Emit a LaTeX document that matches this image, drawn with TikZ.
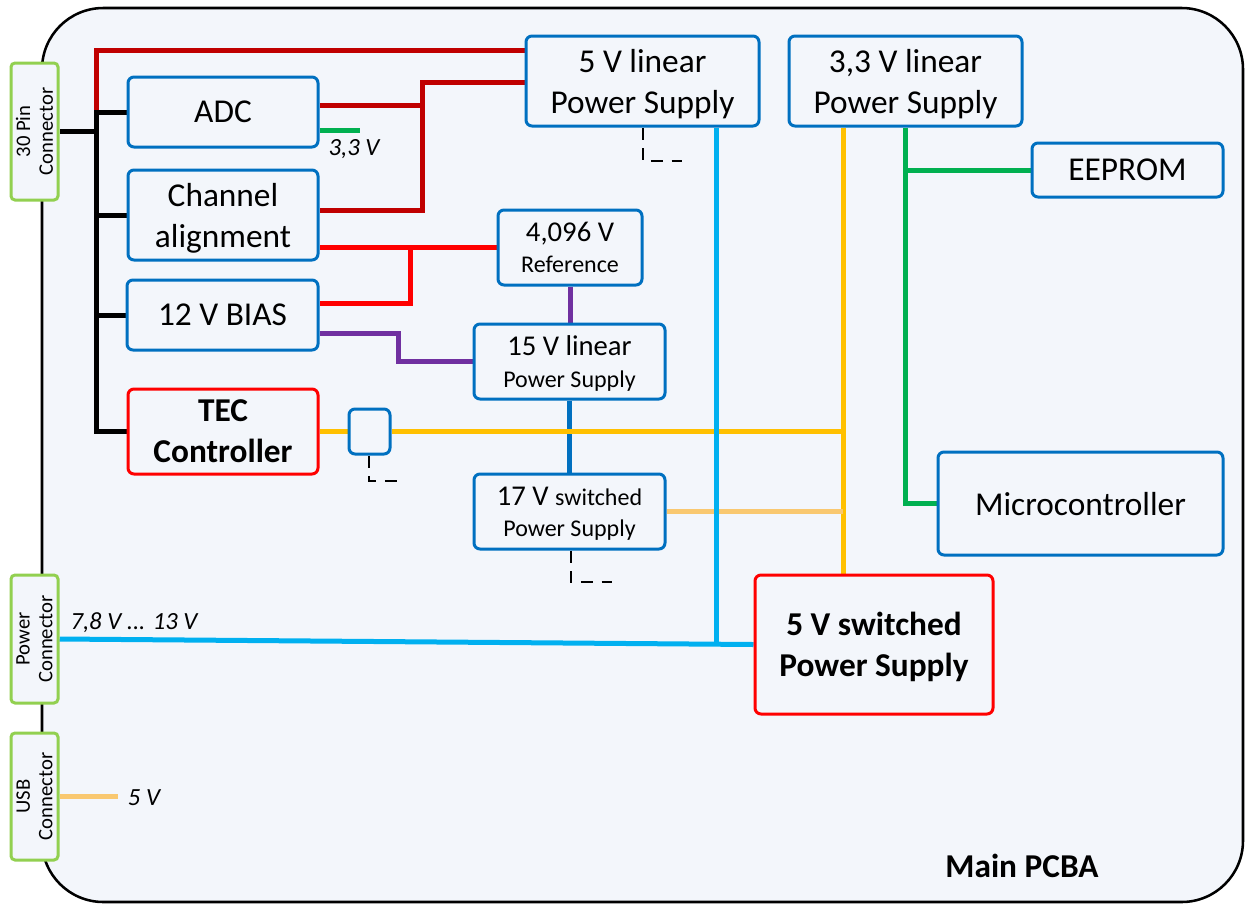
\documentclass[tikz,border=0pt]{standalone}
\usepackage{fontspec}
\setmainfont{Carlito}
\usetikzlibrary{calc}
\definecolor{bgc}{RGB}{243,246,251}
\definecolor{mblue}{RGB}{0,112,192}
\definecolor{dred}{RGB}{192,0,0}
\definecolor{bred}{RGB}{255,0,0}
\definecolor{purp}{RGB}{112,48,160}
\definecolor{cyanw}{RGB}{0,176,240}
\definecolor{yelw}{RGB}{255,192,0}
\definecolor{lorw}{RGB}{249,200,112}
\definecolor{grnw}{RGB}{0,176,80}
\definecolor{lgrn}{RGB}{146,208,80}
\newcommand\fmain{\fontsize{25}{30.75}\selectfont}
\newcommand\fmid{\fontsize{21.5}{23.5}\selectfont}
\newcommand\fsml{\fontsize{18}{23.5}\selectfont}
\newcommand\fconn{\fontsize{15.5}{17}\selectfont}
\newcommand\flab{\fontsize{18.5}{20}\selectfont\itshape}
\newcommand\fpcb{\fontsize{25}{29}\selectfont\bfseries}
\pgfdeclarelayer{bglayer}
\pgfdeclarelayer{wirelayer}
\pgfsetlayers{bglayer,wirelayer,main}
\begin{document}
\begin{tikzpicture}[x=0.75pt,y=-0.75pt,
  box/.style={draw=mblue, line width=2.25pt, rounded corners=4.5pt, fill=bgc, inner sep=0pt, align=center, font=\fmain, text depth=0pt},
  rbox/.style={box, draw=bred},
  conn/.style={draw=lgrn, fill=bgc, line width=2.25pt, rounded corners=3pt, inner sep=0pt, minimum width=35.25pt},
  conntext/.style={rotate=90, font=\fconn, align=center, inner sep=0pt},
  wire/.style={line width=3.75pt},
  gnd/.style={line width=2pt, dash pattern=on 9pt off 6.5pt},
  lbl/.style={inner sep=0pt, font=\flab}]
\useasboundingbox (0,0) rectangle (1246,904);
\begin{pgfonlayer}{bglayer}
\node[draw=black, line width=1.9pt, fill=bgc, rounded corners=46pt, minimum width=900.75pt, minimum height=670.5pt, inner sep=0pt] (pcb) at (642.5,455) {};
\end{pgfonlayer}
\node[inner sep=0pt, font=\fpcb] (pcbl) at (1022,866) {Main PCBA};

% connectors
\node[conn, minimum height=102.75pt] (C30) at (34.5,131.5) {};
\node[conntext] (C30t) at (C30.center) {30 Pin\\Connector};
\node[conn, minimum height=96pt] (PC) at (34.5,639) {};
\node[conntext] (PCt) at (PC.center) {Power\\Connector};
\node[conn, minimum height=95.25pt] (USB) at (34.5,796.5) {};
\node[conntext] (USBt) at (USB.center) {USB\\Connector};

% boxes
\node[box, minimum width=142.5pt, minimum height=52.5pt] (ADC) at (223,112) {ADC};
\node[box, minimum width=142.5pt, minimum height=67.5pt] (Chan) at (223,215) {Channel\\alignment};
\node[box, minimum width=143.25pt, minimum height=52.5pt] (BIAS) at (222.5,315) {12 V BIAS};
\node[rbox, minimum width=142.5pt, minimum height=63.75pt, font=\fmain\bfseries] (TEC) at (223,431.5) {TEC\\Controller};
\node[box, minimum width=174.75pt, minimum height=67.5pt] (PS5L) at (642.5,81) {5 V linear\\Power Supply};
\node[box, minimum width=174.75pt, minimum height=67.5pt] (PS33L) at (905.5,81) {3,3 V linear\\Power Supply};
\node[box, minimum width=143.25pt, minimum height=40.5pt] (EEP) at (1127.5,170) {EEPROM};
\node[box, minimum width=108pt, minimum height=56.25pt, font=\fmid] (REF) at (570,247.5) {4,096 V\\{\fsml Reference}};
\node[box, minimum width=143.25pt, minimum height=56.25pt, font=\fmid] (V15) at (569.5,361.5) {15 V linear\\{\fsml Power Supply}};
\node[box, minimum width=30.75pt, minimum height=33.75pt] (SQ) at (369.5,431.5) {};
\node[box, minimum width=143.25pt, minimum height=56.25pt, font=\fmid] (V17) at (569.5,511.5) {17 V {\fsml switched}\\{\fsml Power Supply}};
\node[box, minimum width=213.75pt, minimum height=77.25pt] (MCU) at (1080.5,503.5) {Microcontroller};
\node[rbox, minimum width=178.5pt, minimum height=104.25pt, font=\fmain\bfseries] (PS5S) at (874,644.5) {5 V switched\\Power Supply};

% labels
\node[lbl] (l33) at (354,149) {3,3 V};
\node[lbl] (l78) at (134,623) {7,8 V ... 13 V};
\node[lbl] (l5) at (144,798) {5 V};

% coordinates
\coordinate (jB) at (96,131.5);
\coordinate (r50) at ($(PS5L.west)+(0,-31)$);
\coordinate (jR) at (422,82);
\coordinate (adcR) at ($(ADC.east)+(0,-7)$);
\coordinate (chR) at ($(Chan.east)+(0,-5)$);
\coordinate (psR) at ($(PS5L.west)+(0,1)$);
\coordinate (jBR) at (410,247.5);
\coordinate (biasR) at ($(BIAS.east)+(0,-12)$);
\coordinate (biasP) at ($(BIAS.east)+(0,18)$);
\coordinate (jP) at (398,361.5);
\coordinate (jY) at (843,431.5);
\coordinate (jG) at (905,170);
\coordinate (jC) at (716,642);
\coordinate (adcG) at ($(ADC.east)+(0,18)$);
\coordinate (g33) at (360,130);
\coordinate (usbE) at (118,796.5);
\coordinate (g1) at (643,161);
\coordinate (g1e) at (682,161);
\coordinate (g2) at (369,481);
\coordinate (g2e) at (402,481);
\coordinate (g3) at (571,582);
\coordinate (g3e) at (612,582);

\begin{pgfonlayer}{wirelayer}
% dark red
\draw[wire, dred] (ADC.west -| jB) |- (r50);
\draw[wire, dred] (psR) -- (jR) |- (chR);
\draw[wire, dred] (adcR) -- (adcR -| jR);
% bright red
\draw[wire, bred] (REF.west) -- (REF.west -| Chan.east);
\draw[wire, bred] (jBR) |- (biasR);
% purple
\draw[wire, purp] (biasP) -| (jP) -- (V15.west);
\draw[wire, purp] (REF.south) -- (REF.south |- V15.north);
% blue
\draw[wire, mblue] (V15.south) -- (V17.north);
% black trunk
\draw[wire, black] (C30.east) -- (jB);
\draw[wire, black] (ADC.west) -| (jB) |- (TEC.west);
\draw[wire, black] (Chan.west) -- (Chan.west -| jB);
\draw[wire, black] (BIAS.west) -- (BIAS.west -| jB);
% yellow
\draw[wire, yelw] (TEC.east) -- (SQ.west);
\draw[wire, yelw] (SQ.east) -- (jY);
\draw[wire, yelw] (PS33L.south -| jY) -- (PS5S.north -| jY);
\draw[wire, lorw] (V17.east) -- (V17.east -| jY);
% green
\draw[wire, grnw] (PS33L.south -| jG) |- (MCU.west);
\draw[wire, grnw] (jG) -- (EEP.west);
\draw[wire, grnw] (adcG) -- (g33);
% cyan
\draw[wire, cyanw] (PS5L.south -| jC) -- (jC);
\draw[wire, cyanw] (PC.east) -- (PS5S.west);
% usb
\draw[wire, lorw] (USB.east) -- (usbE);
% grounds
\draw[gnd] (PS5L.south -| g1) -- (g1) -- (g1e);
\draw[gnd] (SQ.south -| g2) -- (g2) -- (g2e);
\draw[gnd] (V17.south -| g3) -- (g3) -- (g3e);
\end{pgfonlayer}
\end{tikzpicture}
\end{document}
